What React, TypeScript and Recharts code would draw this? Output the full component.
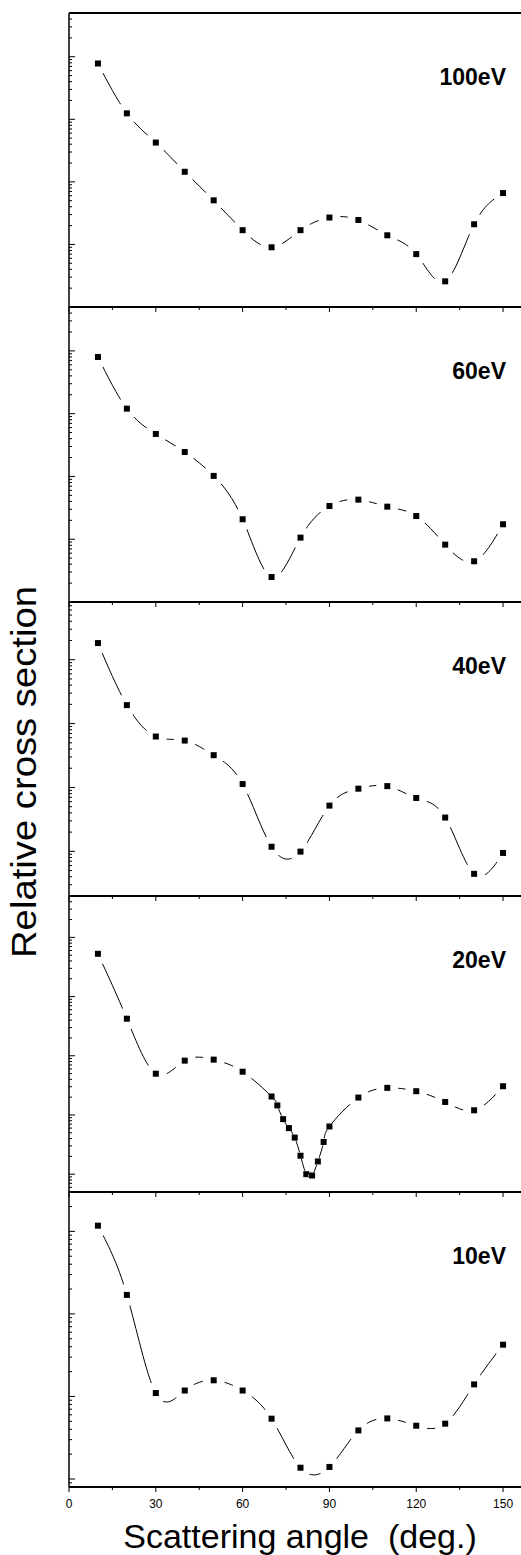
import React from 'react';
import { ComposedChart, Line, Scatter, XAxis, YAxis, ReferenceLine } from 'recharts';

// scattering angles (deg.)
const ANGLES = [10, 20, 30, 40, 50, 60, 70, 80, 90, 100, 110, 120, 130, 140, 150];
const ANGLES_20EV = [10, 20, 30, 40, 50, 60, 70, 72, 74, 76, 78, 80, 82, 84, 86, 88, 90, 100, 110, 120, 130, 140, 150];

// relative cross sections
const CS_100EV = [7800, 1245, 425, 145, 50.7, 16.9, 9.0, 16.9, 26.9, 24.6, 14.0, 7.0, 2.57, 21.0, 66.2];
const CS_60EV = [8000, 1202, 475, 245, 102, 20.8, 2.5, 10.6, 33.8, 42.7, 33, 23.4, 8.2, 4.45, 17.3];
const CS_40EV = [18200, 1945, 627, 542, 320, 113, 11.8, 9.9, 52, 95.7, 105, 68.5, 33.8, 4.45, 9.44];
const CS_20EV = [5280, 423, 49.8, 82.8, 86.1, 53.8, 20.5, 14.5, 8.5, 6.0, 4.15, 2.05, 1.0, 0.95, 1.64, 3.5, 6.4, 19.7, 28.7, 25.2, 16.6, 12.0, 30.6];
const CS_10EV = [1173, 170, 11.0, 11.8, 15.7, 11.8, 5.38, 1.37, 1.40, 3.88, 5.42, 4.42, 4.68, 14.0, 42.4];

const ENERGY_LABELS = ['100eV', '60eV', '40eV', '20eV', '10eV'];
const Y_DOMAINS: [number, number][] = [[1, 50000], [1, 50000], [2, 80000], [0.5, 50000], [0.8, 3000]];

const X_MAJOR = [0, 30, 60, 90, 120, 150];
const X_MINOR = [15, 45, 75, 105, 135];
const X_DOMAIN: [number, number] = [0, 156.2];

const FONT = '"Liberation Sans", Arial, sans-serif';
const WIDTH = 521;
const AXIS_X = 69;
const PANEL_EDGES = [13, 307, 602, 896, 1192, 1487];

const PANELS = [
  { label: ENERGY_LABELS[0], angles: ANGLES, values: CS_100EV, domain: Y_DOMAINS[0] },
  { label: ENERGY_LABELS[1], angles: ANGLES, values: CS_60EV, domain: Y_DOMAINS[1] },
  { label: ENERGY_LABELS[2], angles: ANGLES, values: CS_40EV, domain: Y_DOMAINS[2] },
  { label: ENERGY_LABELS[3], angles: ANGLES_20EV, values: CS_20EV, domain: Y_DOMAINS[3] },
  { label: ENERGY_LABELS[4], angles: ANGLES, values: CS_10EV, domain: Y_DOMAINS[4] },
];

const isDecade = (v: number) => Math.abs(Math.log10(v) - Math.round(Math.log10(v))) < 1e-6;

function logTicks([lo, hi]: [number, number]) {
  const out: number[] = [];
  for (let e = Math.floor(Math.log10(lo)); e <= Math.ceil(Math.log10(hi)); e++) {
    for (let m = 1; m <= 9; m++) {
      const v = +(m * Math.pow(10, e)).toPrecision(6);
      if (v >= lo * 0.999 && v <= hi * 1.001) out.push(v);
    }
  }
  return out;
}

const renderYTick = (p: any) => {
  const major = isDecade(p.payload.value);
  return (
    <line x1={p.x} x2={p.x + (major ? 6 : 3)} y1={p.y} y2={p.y} stroke="#000" strokeWidth={1} />
  );
};

const renderXTick = (p: any, labels: boolean) => {
  const v = p.payload.value;
  const major = X_MAJOR.includes(v);
  return (
    <g>
      <line x1={p.x} x2={p.x} y1={p.y} y2={p.y + (major ? 5 : 3)} stroke="#000" strokeWidth={1} />
      {labels && major && (
        <text x={p.x} y={p.y + 21} textAnchor="middle" fontSize={12} fontFamily={FONT} fill="#000">
          {v}
        </text>
      )}
    </g>
  );
};

// symbol with a white gap round it, smaller where the points are packed tight
const symbolShape = (angles: number[]) => (p: any) => {
  const a = p.payload?.angle ?? p.angle;
  const i = angles.indexOf(a);
  const prev = i > 0 ? angles[i] - angles[i - 1] : Infinity;
  const next = i >= 0 && i < angles.length - 1 ? angles[i + 1] - angles[i] : Infinity;
  const r = Math.min(prev, next) >= 10 ? 11 : 3.6;
  return (
    <g>
      <circle cx={p.cx} cy={p.cy} r={r} style={{ fill: '#ffffff', stroke: 'none' }} />
      <rect x={p.cx - 3} y={p.cy - 3} width={6} height={6} style={{ fill: '#000000', stroke: 'none' }} />
    </g>
  );
};

const Panel = ({ idx }: { idx: number }) => {
  const panel = PANELS[idx];
  const last = idx === PANELS.length - 1;
  const top = PANEL_EDGES[idx];
  const h = PANEL_EDGES[idx + 1] - top;
  const axisH = last ? 30 : 7;
  const rows = panel.angles.map((a, i) => ({ angle: a, cs: panel.values[i] }));
  const chartH = h + 2 + axisH;
  const margin = { top: 2, right: 0, bottom: 0, left: 0 };

  const axes = (visible: boolean) => [
    <XAxis
      key="x"
      dataKey="angle"
      type="number"
      domain={X_DOMAIN}
      allowDataOverflow
      ticks={[...X_MAJOR, ...X_MINOR].sort((a, b) => a - b)}
      interval={0}
      tickSize={0}
      tickMargin={0}
      tick={visible ? (p: any) => renderXTick(p, last) : false}
      axisLine={visible ? { stroke: '#000', strokeWidth: 2 } : false}
      height={axisH}
    />,
    <YAxis
      key="y"
      type="number"
      scale="log"
      domain={panel.domain}
      allowDataOverflow
      ticks={logTicks(panel.domain)}
      interval={0}
      tickSize={0}
      tickMargin={0}
      tick={visible ? renderYTick : false}
      axisLine={visible ? { stroke: '#000', strokeWidth: 1.5 } : false}
      width={AXIS_X}
    />,
  ];

  return (
    <>
      {/* curve and axes */}
      <div style={{ position: 'absolute', left: 0, top: top - 2, zIndex: 1 }}>
        <ComposedChart width={WIDTH} height={chartH} data={rows} margin={margin}>
          {axes(true)}
          {idx === 0 && <ReferenceLine y={panel.domain[1]} stroke="#000" strokeWidth={2} />}
          <Line
            dataKey="cs"
            type="natural"
            stroke="#000"
            strokeWidth={1}
            dot={false}
            activeDot={false}
            isAnimationActive={false}
          />
        </ComposedChart>
      </div>
      {/* symbols with their gaps, laid over the curve */}
      <div style={{ position: 'absolute', left: 0, top: top - 2, zIndex: 2 }}>
        <ComposedChart width={WIDTH} height={chartH} data={rows} margin={margin}>
          {axes(false)}
          <Scatter dataKey="cs" shape={symbolShape(panel.angles)} isAnimationActive={false} />
        </ComposedChart>
      </div>
    </>
  );
};

export default function App() {
  return (
    <div style={{ position: 'absolute', left: 0, top: 0, width: WIDTH, height: 1555, background: '#fff', overflow: 'hidden' }}>
      {PANELS.map((_, i) => (
        <Panel key={i} idx={i} />
      ))}
      <svg width={WIDTH} height={1555} style={{ position: 'absolute', left: 0, top: 0, zIndex: 3, pointerEvents: 'none' }}>
        {PANELS.map((p, i) => (
          <text
            key={p.label}
            x={506}
            y={PANEL_EDGES[i] + 72}
            textAnchor="end"
            fontSize={23}
            fontWeight="bold"
            fontFamily={FONT}
            fill="#000"
          >
            {p.label}
          </text>
        ))}
        <text
          transform="translate(36,772) rotate(-90)"
          textAnchor="middle"
          fontSize={35}
          textLength={372}
          lengthAdjust="spacingAndGlyphs"
          fontFamily={FONT}
          fill="#000"
        >
          Relative cross section
        </text>
        <text x={300} y={1548} textAnchor="middle" fontSize={34} fontFamily={FONT} fill="#000">
          {'Scattering angle\u00a0 (deg.)'}
        </text>
      </svg>
    </div>
  );
}
